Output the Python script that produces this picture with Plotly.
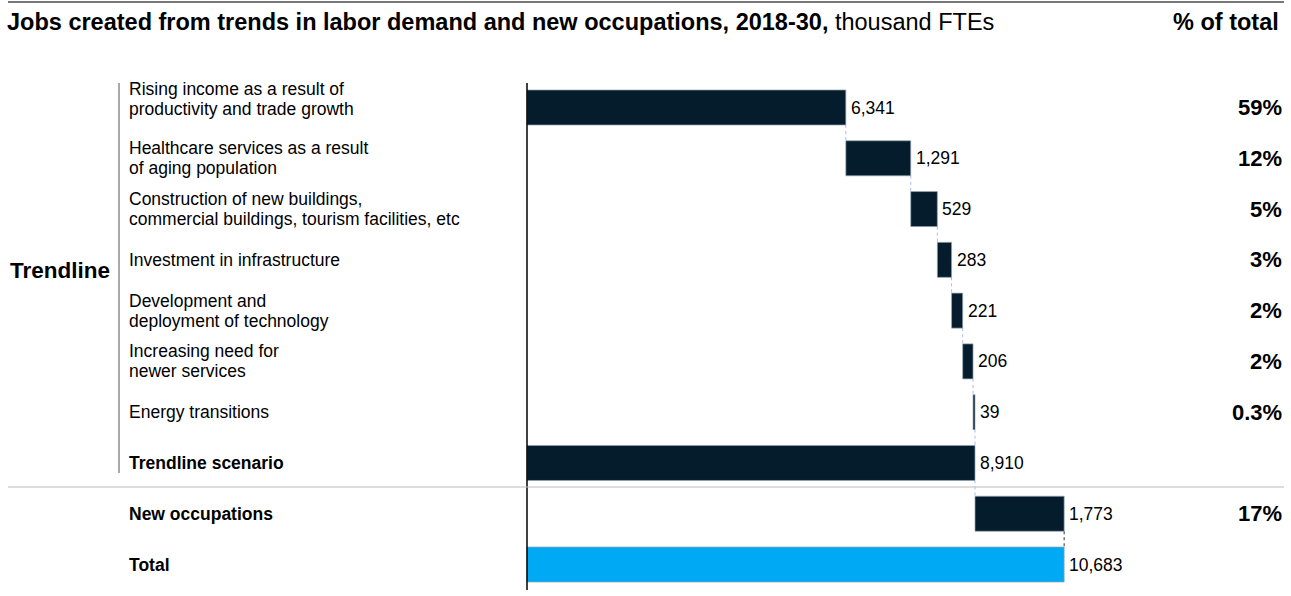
import plotly.graph_objects as go

# ---- data -------------------------------------------------------------
categories = [
    "Rising income as a result of<br>productivity and trade growth",
    "Healthcare services as a result<br>of aging population",
    "Construction of new buildings,<br>commercial buildings, tourism facilities, etc",
    "Investment in infrastructure",
    "Development and<br>deployment of technology",
    "Increasing need for<br>newer services",
    "Energy transitions",
    "<b>Trendline scenario</b>",
    "<b>New occupations</b>",
    "<b>Total</b>",
]
values = [6341, 1291, 529, 283, 221, 206, 39, 8910, 1773, 10683]
measures = ["relative"] * 7 + ["total", "relative", "total"]
value_labels = ["6,341", "1,291", "529", "283", "221", "206", "39", "8,910", "1,773", "10,683"]
pct_labels = ["59%", "12%", "5%", "3%", "2%", "2%", "0.3%", "", "17%", ""]

DARK = "#051C2C"
CYAN = "#00A9F4"
FONT = "Liberation Sans, Arial, sans-serif"

W, H = 1291, 596


def px(x):
    return x / W


def py(y):
    return 1 - y / H


# ---- waterfall geometry (bases / ends computed from values) ----------
bases, ends = [], []
running = 0
for v, m in zip(values, measures):
    if m == "total":
        bases.append(0)
        ends.append(v)
        running = v
    else:
        bases.append(running)
        running += v
        ends.append(running)

rows = list(range(len(values)))
bar_w = 0.69
colors = [DARK] * 9 + [CYAN]
widths = [e - b for b, e in zip(bases, ends)]

fig = go.Figure(
    go.Bar(
        orientation="h",
        y=rows,
        x=widths,
        base=bases,
        width=bar_w,
        marker=dict(color=colors, line=dict(color="rgba(150,165,180,0.7)", width=1)),
        hoverinfo="skip",
    )
)

# scale: 0 at x=527px, 8910 -> 975px
scale = (975 - 527) / 8910
x0_px = 527
row0_px, row_step = 107.5, 50.78

shapes = []
annotations = []

# connectors between consecutive bars
for i in range(len(values) - 1):
    xe = ends[i]
    black = i == len(values) - 2
    shapes.append(dict(
        type="line", xref="x", yref="y",
        x0=xe, x1=xe, y0=i + bar_w / 2, y1=i + 1 - bar_w / 2,
        line=dict(color="#333333" if black else "#A9BDEB", width=1, dash="dot"),
        layer="below",
    ))

# vertical baseline at zero
shapes.append(dict(type="line", xref="x", yref="paper", x0=0, x1=0,
                   y0=py(590), y1=py(83), line=dict(color="#000000", width=1.5)))
# top rule
shapes.append(dict(type="line", xref="paper", yref="paper", x0=px(8), x1=px(1284),
                   y0=py(2), y1=py(2), line=dict(color="#777777", width=2)))
# separator before new occupations
shapes.append(dict(type="line", xref="paper", yref="paper", x0=px(8), x1=px(1284),
                   y0=py(487), y1=py(487), line=dict(color="#BBBBBB", width=1)))
# bracket for trendline group
shapes.append(dict(type="line", xref="paper", yref="paper", x0=px(119), x1=px(119),
                   y0=py(473), y1=py(83), line=dict(color="#555555", width=1)))

# title
annotations.append(dict(
    xref="paper", yref="paper", x=px(5), y=py(22), xanchor="left", yanchor="middle",
    text="<b>Jobs created from trends in labor demand and new occupations, 2018-30,</b> thousand FTEs",
    showarrow=False, font=dict(family=FONT, size=23.5, color="#000000"),
))
annotations.append(dict(
    xref="paper", yref="paper", x=px(1281), y=py(22), xanchor="right", yanchor="middle",
    text="<b>% of total</b>", showarrow=False,
    font=dict(family=FONT, size=23.5, color="#000000"),
))
annotations.append(dict(
    xref="paper", yref="paper", x=px(8), y=py(270), xanchor="left", yanchor="middle",
    text="<b>Trendline</b>", showarrow=False,
    font=dict(family=FONT, size=22.5, color="#000000"),
))

LINE_GAP = 20  # px between the two lines of a wrapped category label
for i, cat in enumerate(categories):
    lines = cat.split("<br>")
    centre_shift = 9 if i == 0 else 0
    n = len(lines)
    for k, line in enumerate(lines):
        offset = ((n - 1) / 2 - k) * LINE_GAP
        annotations.append(dict(
            xref="paper", yref="y", x=px(127), y=i, xanchor="left", yanchor="middle",
            yshift=centre_shift + offset,
            text=line, align="left", showarrow=False,
            font=dict(family=FONT, size=17.5, color="#000000"),
        ))
    annotations.append(dict(
        xref="x", yref="y", x=ends[i], y=i, xanchor="left", yanchor="middle",
        xshift=3, text=value_labels[i], showarrow=False,
        font=dict(family=FONT, size=17.5, color="#000000"),
    ))
    if pct_labels[i]:
        annotations.append(dict(
            xref="paper", yref="y", x=px(1284), y=i, xanchor="right", yanchor="middle",
            text=f"<b>{pct_labels[i]}</b>", showarrow=False,
            font=dict(family=FONT, size=22, color="#000000"),
        ))

fig.update_layout(
    width=W, height=H,
    margin=dict(l=0, r=0, t=0, b=0),
    paper_bgcolor="white", plot_bgcolor="white",
    showlegend=False,
    xaxis=dict(range=[-x0_px / scale, (W - x0_px) / scale], visible=False, fixedrange=True),
    yaxis=dict(range=[(H - row0_px) / row_step, -row0_px / row_step], visible=False, fixedrange=True),
    shapes=shapes, annotations=annotations,
)

fig.write_html("out.html", config={"displayModeBar": False})
